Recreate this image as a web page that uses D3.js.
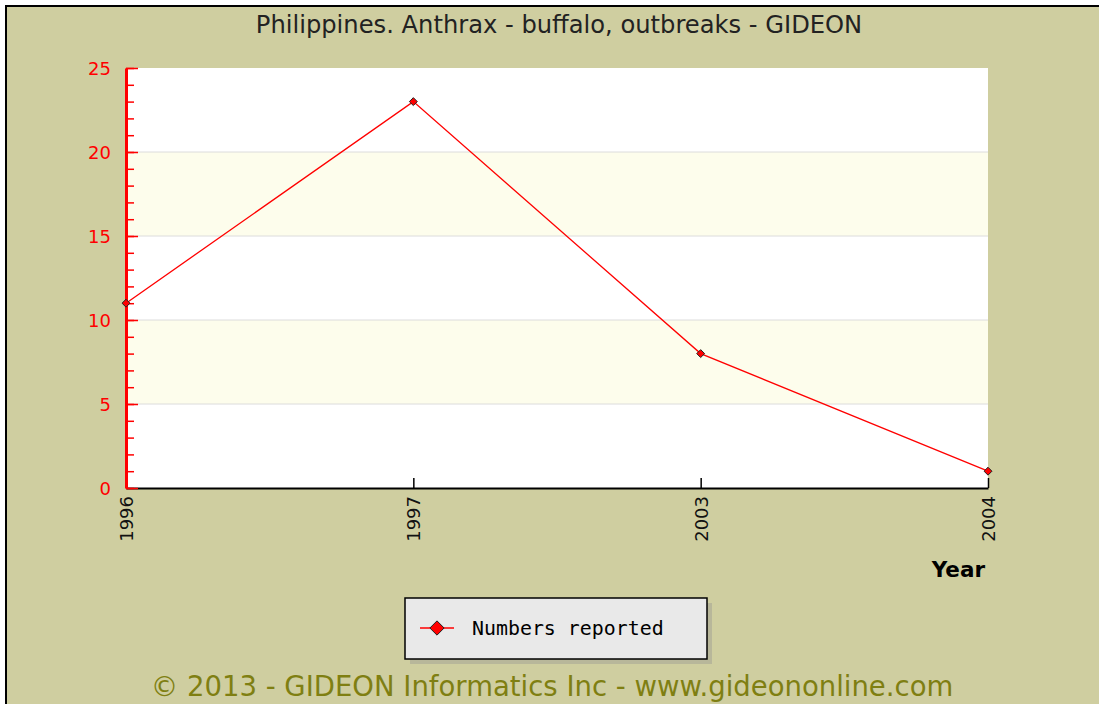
<!DOCTYPE html>
<html>
<head>
<meta charset="utf-8">
<script src="https://cdn.jsdelivr.net/npm/d3@7"></script>
<style>
  body { margin: 0; background: #fff; }
  svg { display: block; }
</style>
</head>
<body>
<div id="contenedor"></div>
<script>
// datos
var years = ["1996", "1997", "2003", "2004"]
var reported = [11, 23, 8, 1]
var yTicks = [0, 5, 10, 15, 20, 25]

var titulo = "Philippines. Anthrax - buffalo, outbreaks - GIDEON"
var serie = "Numbers reported"
var pie = "\u00a9 2013 - GIDEON Informatics Inc - www.gideononline.com"

var ancho = 1099, alto = 704
var margen = {left: 126, top: 68, right: 988, bottom: 488}

var svg = d3.select("#contenedor")
  .append("svg")
  .attr("width", ancho)
  .attr("height", alto)

// fondo
svg.append("rect").attr("x", 6).attr("y", 6).attr("width", ancho).attr("height", alto)
  .attr("fill", "#cfcea0").attr("stroke", "#000").attr("stroke-width", 2)

var x = d3.scalePoint().domain(years).range([margen.left, margen.right])
var y = d3.scaleLinear().domain([0, 25]).range([margen.bottom, margen.top])

// bandas alternas
var bandas = d3.range(0, 25, 5)
svg.selectAll(".banda").data(bandas).enter().append("rect")
  .attr("x", margen.left)
  .attr("width", margen.right - margen.left)
  .attr("y", function(d) { return y(d + 5) })
  .attr("height", function(d) { return y(d) - y(d + 5) })
  .attr("fill", function(d, i) { return i % 2 ? "#fdfdec" : "#ffffff" })

// rejilla
svg.selectAll(".grid").data(yTicks.slice(1, 5)).enter().append("line")
  .attr("x1", margen.left).attr("x2", margen.right)
  .attr("y1", function(d) { return y(d) }).attr("y2", function(d) { return y(d) })
  .attr("stroke", "#dcdcdc").attr("stroke-width", 1)

// eje X
var ejeX = d3.axisBottom(x).tickSize(-10).tickSizeOuter(0).tickFormat("")
svg.append("g")
  .attr("transform", "translate(0," + margen.bottom + ")")
  .call(ejeX)
  .call(function(g) {
    g.select(".domain").attr("stroke", "#000").attr("stroke-width", 2)
    g.selectAll(".tick line").attr("stroke", "#000").attr("stroke-width", 1.5)
  })

svg.selectAll(".xlab").data(years).enter().append("text")
  .attr("transform", function(d) { return "translate(" + (x(d) + 7) + "," + (margen.bottom + 8) + ") rotate(-90)" })
  .attr("text-anchor", "end")
  .attr("font-family", "DejaVu Sans")
  .attr("font-size", 18)
  .attr("fill", "#111")
  .text(function(d) { return d })

// eje Y (ticks menores hacia dentro)
var ejeYmenor = d3.axisRight(y).ticks(25).tickSize(8).tickSizeOuter(0).tickFormat("")
svg.append("g")
  .attr("transform", "translate(" + margen.left + ",0)")
  .call(ejeYmenor)
  .call(function(g) {
    g.select(".domain").attr("stroke", "#ff0000").attr("stroke-width", 3)
    g.selectAll(".tick line").attr("stroke", "#ff0000").attr("stroke-width", 1.5)
  })

var ejeY = d3.axisRight(y).tickValues(yTicks).tickSize(12).tickFormat("")
svg.append("g")
  .attr("transform", "translate(" + margen.left + ",0)")
  .call(ejeY)
  .call(function(g) {
    g.select(".domain").remove()
    g.selectAll(".tick line").attr("stroke", "#ff0000").attr("stroke-width", 1.5)
  })

svg.selectAll(".ylab").data(yTicks).enter().append("text")
  .attr("x", margen.left - 15)
  .attr("y", function(d) { return y(d) + 7 })
  .attr("text-anchor", "end")
  .attr("font-family", "DejaVu Sans")
  .attr("font-size", 18)
  .attr("fill", "#ff0000")
  .text(function(d) { return d })

// linea
var linea = d3.line()
  .x(function(d, i) { return x(years[i]) })
  .y(function(d) { return y(d) })

svg.append("path").datum(reported)
  .attr("d", linea)
  .attr("fill", "none")
  .attr("stroke", "#ff0000")
  .attr("stroke-width", 1.3)

var rombo = d3.symbol().type(d3.symbolDiamond2).size(40)
svg.selectAll(".punto").data(reported).enter().append("path")
  .attr("d", rombo)
  .attr("transform", function(d, i) { return "translate(" + x(years[i]) + "," + y(d) + ")" })
  .attr("fill", "#ff0000")
  .attr("stroke", "#222")
  .attr("stroke-width", 1)

// titulo
svg.append("text")
  .attr("x", 559).attr("y", 33)
  .attr("text-anchor", "middle")
  .attr("font-family", "DejaVu Sans")
  .attr("font-size", 24.2)
  .attr("fill", "#222")
  .text(titulo)

svg.append("text")
  .attr("x", 985).attr("y", 577)
  .attr("text-anchor", "end")
  .attr("font-family", "DejaVu Sans")
  .attr("font-weight", "bold")
  .attr("font-size", 21.5)
  .attr("fill", "#000")
  .text("Year")

// leyenda
var ley = svg.append("g").attr("transform", "translate(405,598)")
ley.append("rect").attr("x", 5).attr("y", 5).attr("width", 302).attr("height", 61).attr("fill", "#b8b79a")
ley.append("rect").attr("x", 0).attr("y", 0).attr("width", 302).attr("height", 61)
  .attr("fill", "#e9e9e9").attr("stroke", "#000").attr("stroke-width", 1.5)
ley.append("line").attr("x1", 15).attr("x2", 49).attr("y1", 30).attr("y2", 30)
  .attr("stroke", "#ff0000").attr("stroke-width", 1.5)
ley.append("path").attr("d", d3.symbol().type(d3.symbolDiamond2).size(130))
  .attr("transform", "translate(32,30)")
  .attr("fill", "#ff0000").attr("stroke", "#222").attr("stroke-width", 1)
ley.append("text").attr("x", 67).attr("y", 37)
  .attr("font-family", "DejaVu Sans Mono")
  .attr("font-size", 19.9)
  .attr("fill", "#000")
  .text(serie)

// pie
svg.append("text")
  .attr("x", 552).attr("y", 696)
  .attr("text-anchor", "middle")
  .attr("font-family", "DejaVu Sans")
  .attr("font-size", 27.5)
  .attr("fill", "#7f7f12")
  .text(pie)
</script>
</body>
</html>
